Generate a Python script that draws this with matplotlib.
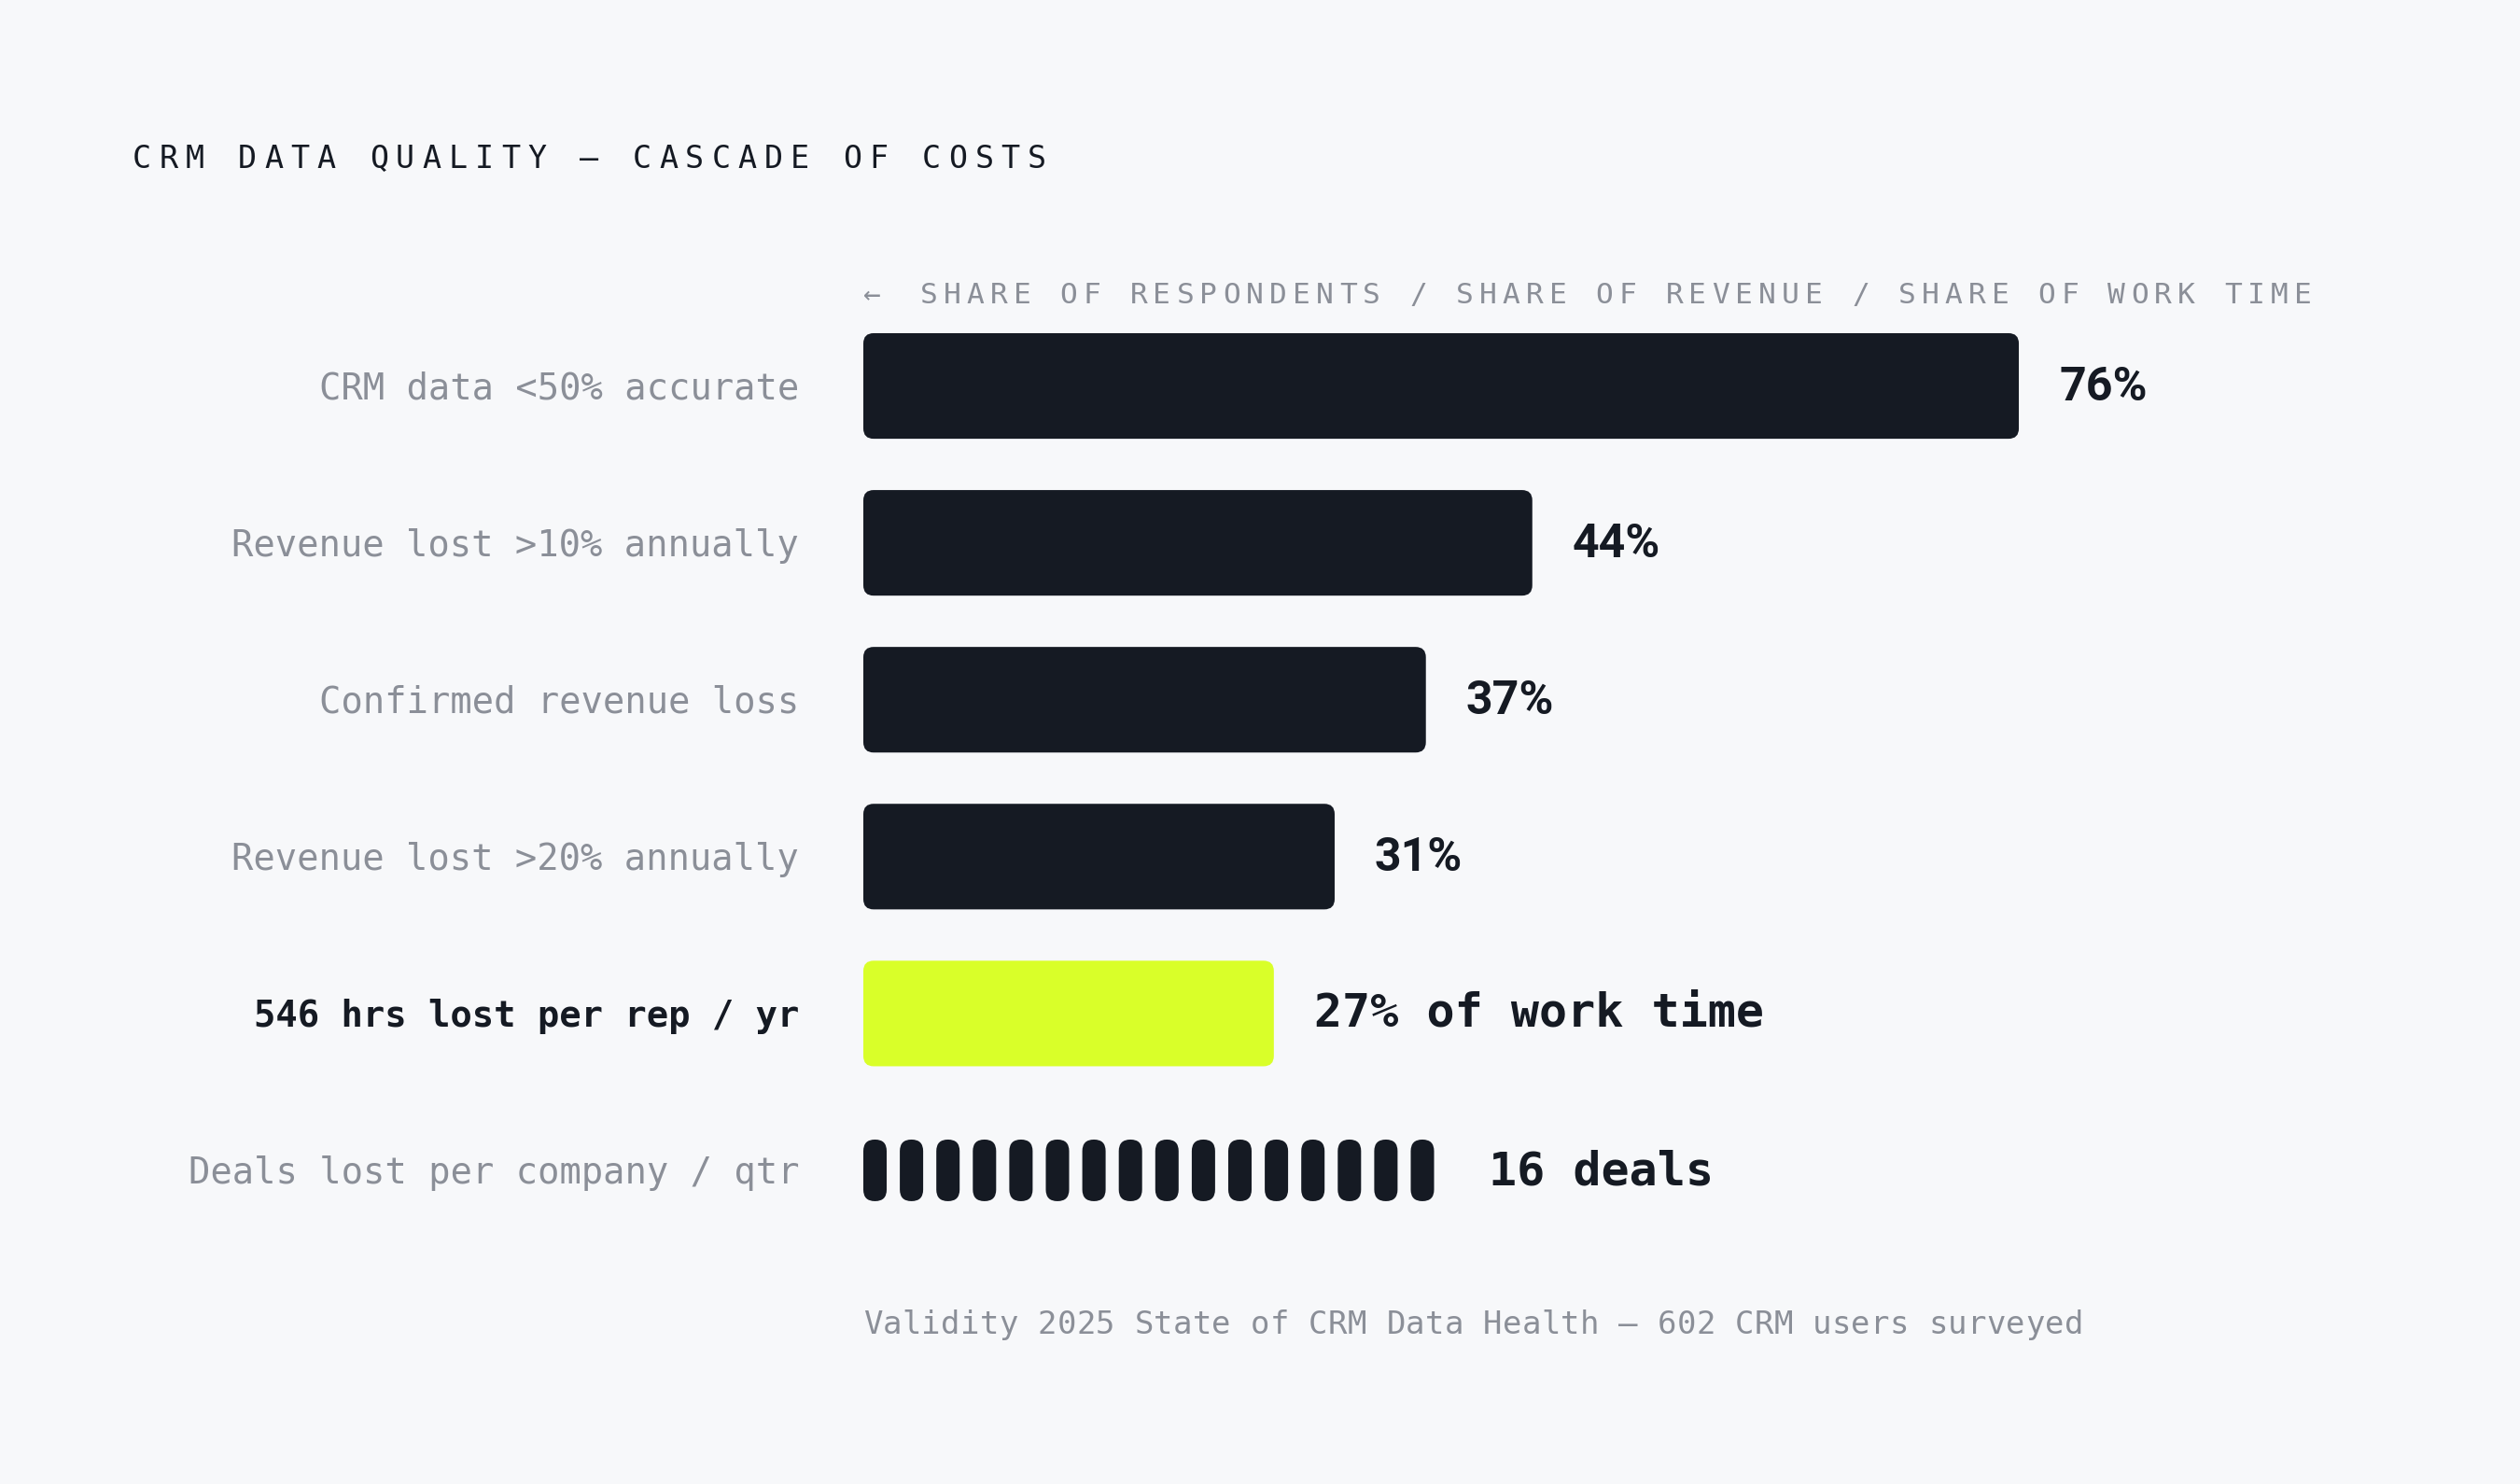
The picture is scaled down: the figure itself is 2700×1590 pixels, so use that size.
import matplotlib
matplotlib.use("Agg")
import matplotlib.pyplot as plt
from matplotlib.patches import FancyBboxPatch

# data
categories = ["CRM data <50% accurate", "Revenue lost >10% annually",
              "Confirmed revenue loss", "Revenue lost >20% annually",
              "546 hrs lost per rep / yr", "Deals lost per company / qtr"]
values = [76, 44, 37, 31, 27]
value_labels = ["76%", "44%", "37%", "31%", "27% of work time"]
deals = 16
deals_label = "16 deals"
title = "CRM DATA QUALITY \u2014 CASCADE OF COSTS"
axis_arrow = "\u2190"
axis_note = "SHARE OF RESPONDENTS / SHARE OF REVENUE / SHARE OF WORK TIME"
source = "Validity 2025 State of CRM Data Health \u2014 602 CRM users surveyed"

W, H = 2700, 1590
BG = "#f7f8fa"
DARK = "#151a23"
GRAY = "#8b8f98"
LIME = "#d9ff29"
MONO = "DejaVu Sans Mono"

fig = plt.figure(figsize=(W / 100, H / 100), dpi=100, facecolor=BG)
ax = fig.add_axes([925 / W, 1 - 1338 / H, 1629 / W, (1338 - 329.5) / H])
ax.set_facecolor(BG)
ax.set_xlim(0, 100)
ax.set_ylim(len(categories) - 0.5, -0.5)
ax.axis("off")

px_x = 100 / 1629          # x data units per pixel
px_y = 1 / 168.1           # y data units per pixel
asp = px_y / px_x
bar_h = 0.673
radius = 11 * px_x
gap = 43 * px_x


def rbox(x, y, w, h, r, color):
    p = FancyBboxPatch((x, y - h / 2), w, h,
                       boxstyle=f"round,pad=0,rounding_size={r}",
                       mutation_aspect=asp, facecolor=color,
                       edgecolor="none", zorder=2)
    ax.add_patch(p)


def spaced(x_px, y_px, s, pitch, **kw):
    for i, ch in enumerate(s):
        fig.text((x_px + i * pitch) / W, 1 - y_px / H, ch,
                 ha="left", va="baseline", **kw)


# bars
for i, v in enumerate(values):
    hl = i == len(values) - 1
    rbox(0, i, v, bar_h, radius, LIME if hl else DARK)
    if hl:
        ax.annotate(value_labels[i], (v + gap, i), xytext=(0, -10),
                    textcoords="offset points", ha="left", va="baseline",
                    fontsize=36, fontweight="bold", family=MONO, color=DARK)
    else:
        ax.annotate(value_labels[i], (v + gap, i), xytext=(0, -11),
                    textcoords="offset points", ha="left", va="baseline",
                    fontsize=36, fontweight="bold", family="Roboto", color=DARK)

# deal pills
row = len(values)
pill_w = 25 * px_x
pill_pitch = 39.1 * px_x
pill_h = 66 * px_y
for k in range(deals):
    rbox(k * pill_pitch, row, pill_w, pill_h, pill_w / 2 * 0.99, DARK)
end = (deals - 1) * pill_pitch + pill_w
ax.annotate(deals_label, (end + gap + 15 * px_x, row), xytext=(0, -11),
            textcoords="offset points", ha="left", va="baseline",
            fontsize=36, fontweight="bold", family=MONO, color=DARK)

# category labels
for i, c in enumerate(categories):
    bold = i == 4
    ax.annotate(c, (0, i), xytext=(-69 * 0.72, -10),
                textcoords="offset points", ha="right", va="baseline",
                fontsize=28, family=MONO,
                fontweight="bold" if bold else "normal",
                color=DARK if bold else GRAY)

# header texts
spaced(142, 180, title, 28.2, fontsize=24, family=MONO, color=DARK)
spaced(925, 325, axis_arrow, 25, fontsize=22.5, family=MONO, color=GRAY)
spaced(986, 325, axis_note, 24.95, fontsize=22.5, family=MONO, color=GRAY)
spaced(925, 1429, source, 20.75, fontsize=24.5, family=MONO, color=GRAY)

fig.savefig("out.png", dpi=100, facecolor=BG)
